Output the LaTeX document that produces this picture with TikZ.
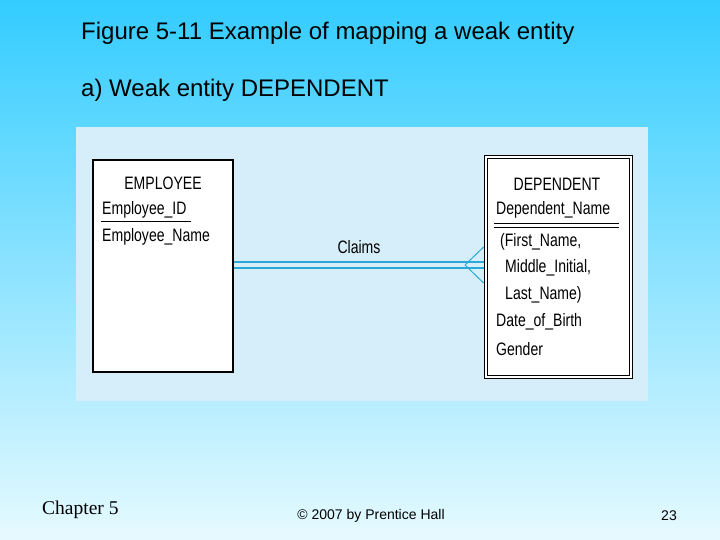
\documentclass[tikz,border=0pt]{standalone}
\usepackage{fontspec}
\setmainfont{Liberation Sans}
\newfontfamily\narrowfont{Liberation Sans}[FakeStretch=0.78]
\newfontfamily\seriffont{Liberation Serif}
\usetikzlibrary{positioning}
\definecolor{topblue}{HTML}{33CCFF}
\definecolor{lowblue}{HTML}{E6FAFF}
\definecolor{panelblue}{HTML}{D6EEFA}
\definecolor{linkblue}{HTML}{2AA8D8}
\tikzset{
  entity/.style={draw=black, fill=white, line width=1.2pt, inner sep=0pt},
  attr/.style={anchor=west, inner sep=0pt, font=\narrowfont\fontsize{18}{20}\selectfont},
  link/.style={draw=linkblue, line width=1.6pt}
}
\begin{document}
\begin{tikzpicture}[x=1pt, y=-1pt]
  % background
  \shade[top color=topblue, bottom color=lowblue] (0,0) rectangle (720,540);
  \useasboundingbox (0,0) rectangle (720,540);
  \fill[panelblue] (76,127) rectangle (648,401);

  % titles
  \node[anchor=west, inner sep=0pt, font=\fontsize{24}{26}\selectfont] (title) at (81,33) {Figure 5-11 Example of mapping a weak entity};
  \node[anchor=west, inner sep=0pt, font=\fontsize{24}{26}\selectfont] (sub) at (81,90) {a) Weak entity DEPENDENT};

  % entities
  \node[entity, minimum width=140pt, minimum height=212pt] (emp) at (163,266) {};
  \node[entity, line width=0.8pt, minimum width=148pt, minimum height=223pt] (dep) at (558,266.5) {};
  \node[draw=black, line width=0.8pt, minimum width=142pt, minimum height=217pt, inner sep=0pt] (depin) at (dep.center) {};

  % employee attributes
  \node[attr, anchor=center] (emptitle) at (163,183) {EMPLOYEE};
  \node[attr] (empid) at (102,210) {Employee\_ID};
  \node[attr] (empname) at (102,237) {Employee\_Name};
  \draw[line width=1pt] (101,222) -- (191,222);

  % dependent attributes
  \node[attr, anchor=center] (deptitle) at (557,184) {DEPENDENT};
  \node[attr] (depname) at (496,210) {Dependent\_Name};
  \draw[line width=1pt] (494,224) -- (619,224);
  \draw[line width=1pt] (494,228) -- (619,228);
  \node[attr] (first) at (500,242) {(First\_Name,};
  \node[attr] (middle) at (505,268) {Middle\_Initial,};
  \node[attr] (last) at (505,295) {Last\_Name)};
  \node[attr] (dob) at (496,322) {Date\_of\_Birth};
  \node[attr] (gender) at (496,349) {Gender};

  % relationship
  \coordinate (foot) at (465,265);
  \draw[link] ([yshift=-3pt]emp.east |- foot) -- ([yshift=-3pt]foot -| dep.west);
  \draw[link] ([yshift=3pt]emp.east |- foot) -- ([yshift=3pt]foot -| dep.west);
  \draw[link, line width=1pt] (foot) -- ([yshift=-18pt]foot -| dep.west);
  \draw[link, line width=1pt] (foot) -- ([yshift=18pt]foot -| dep.west);
  \node[attr, anchor=center] (claims) at (359,247) {Claims};

  % footer
  \node[anchor=west, inner sep=0pt, font=\seriffont\fontsize{19.5}{22}\selectfont] (chapter) at (42,510) {Chapter 5};
  \node[font=\fontsize{14}{16}\selectfont] (copy) at (371,516) {\textcopyright{} 2007 by Prentice Hall};
  \node[font=\fontsize{14}{16}\selectfont] (page) at (669,516) {23};
\end{tikzpicture}
\end{document}
